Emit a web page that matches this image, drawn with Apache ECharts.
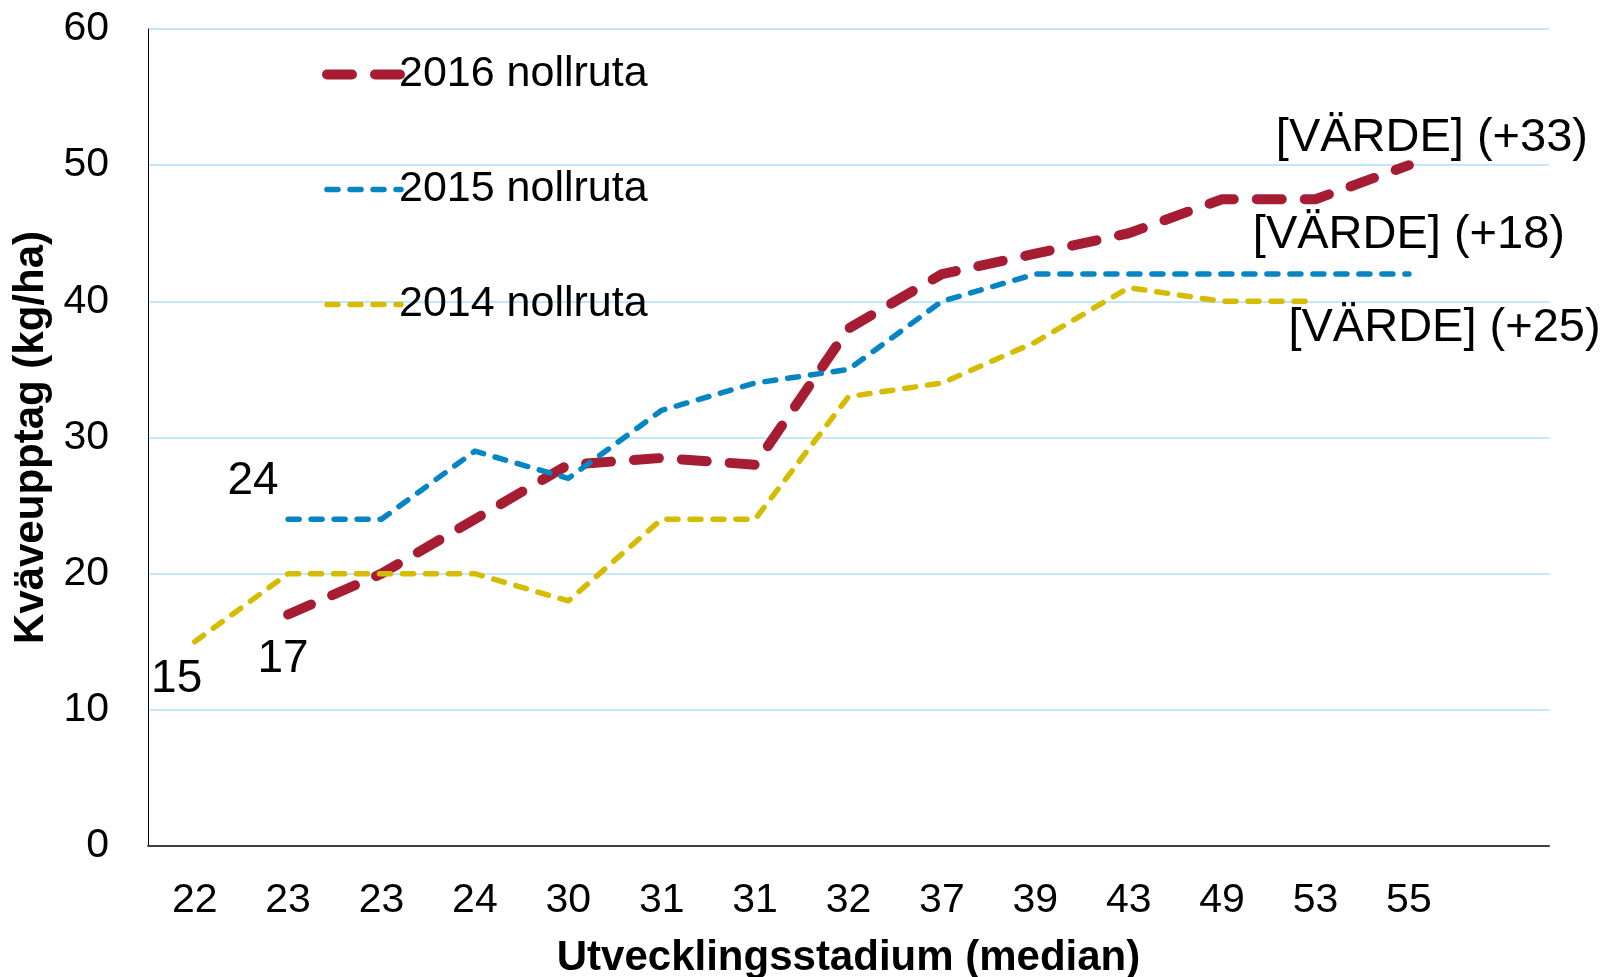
<!DOCTYPE html>
<html><head><meta charset="utf-8">
<script src="https://cdn.jsdelivr.net/npm/echarts@6/dist/echarts.min.js"></script>
<style>html,body{margin:0;padding:0;background:#fff}#c{width:1608px;height:977px}</style>
</head><body><div id="c"></div>
<script>
// ---- data ----
const categories = ['22','23','23','24','30','31','31','32','37','39','43','49','53','55',''];
const yMin = 0, yMax = 60, yStep = 10;
const seriesNames = ['2016 nollruta', '2015 nollruta', '2014 nollruta'];
const values2016 = [null, 17, 20, 24, 28, 28.5, 28, 38, 42, 43.5, 45, 47.5, 47.5, 50, null];
const values2015 = [null, 24, 24, 29, 27, 32, 34, 35, 40, 42, 42, 42, 42, 42, null];
const values2014 = [15, 20, 20, 20, 18, 24, 24, 33, 34, 37, 41, 40, 40, null, null];
const endLabels = ['[VÄRDE] (+33)', '[VÄRDE] (+18)', '[VÄRDE] (+25)'];
const xAxisName = 'Utvecklingsstadium (median)';
const yAxisName = 'Kväveupptag (kg/ha)';

// ---- styles ----
const FONT = "'Liberation Sans', Arial, sans-serif";
const styles = [
  { color: '#A51C33', width: 10, dash: [25, 23], startOffset: [-5, 45], endOffset: [23, -27] },
  { color: '#0585C4', width: 5.5, dash: [11, 12], startOffset: [-35, -38], endOffset: [0, -39] },
  { color: '#D6BC00', width: 5.5, dash: [11, 12], startOffset: [-18, 38], endOffset: [129, 27] }
];

function buildData(vals, st, endText) {
  let first = -1, last = -1;
  vals.forEach((v, i) => { if (v != null) { if (first < 0) first = i; last = i; } });
  return vals.map((v, i) => {
    if (v == null) return null;
    if (i === first) return { value: v, label: { show: true, formatter: String(v), offset: st.startOffset, fontSize: 46 } };
    if (i === last) return { value: v, label: { show: true, formatter: endText, offset: st.endOffset, fontSize: 47 } };
    return v;
  });
}

const allValues = [values2016, values2015, values2014];
const series = allValues.map((vals, k) => ({
  name: seriesNames[k],
  type: 'line',
  data: buildData(vals, styles[k], endLabels[k]),
  symbol: 'circle',
  symbolSize: 1,
  showSymbol: true,
  itemStyle: { color: 'rgba(0,0,0,0)' },
  lineStyle: { color: styles[k].color, width: styles[k].width, type: styles[k].dash, cap: 'round', join: 'round' },
  label: { show: false, position: 'inside', color: '#000', fontFamily: FONT },
  emphasis: { disabled: true },
  animation: false,
  z: 2 + k
}));

const chart = echarts.init(document.getElementById('c'), null, { renderer: 'canvas' });
chart.setOption({
  backgroundColor: '#fff',
  animation: false,
  textStyle: { fontFamily: FONT, color: '#000' },
  grid: { left: 148, right: 59, top: 29, bottom: 131, containLabel: false, outerBoundsMode: 'none' },
  legend: {
    orient: 'vertical',
    left: 317, top: 48,
    itemWidth: 74, itemHeight: 14, itemGap: 72,
    data: seriesNames.map((n, k) => ({
      name: n,
      itemStyle: { color: 'rgba(0,0,0,0)', opacity: 0 },
      lineStyle: { color: styles[k].color, width: styles[k].width, type: styles[k].dash, cap: 'round' }
    })),
    textStyle: { fontSize: 43, color: '#000', fontFamily: FONT, padding: [0,0,0,-7] },
    selectedMode: false
  },
  xAxis: {
    type: 'category',
    data: categories,
    boundaryGap: true,
    name: xAxisName,
    nameLocation: 'middle',
    nameGap: 91,
    nameTextStyle: { fontSize: 42, fontWeight: 'bold', color: '#000', fontFamily: FONT },
    axisLine: { lineStyle: { color: '#404040', width: 2 } },
    axisTick: { show: false },
    axisLabel: { fontSize: 41, color: '#000', margin: 34, interval: 0, fontFamily: FONT },
    splitLine: { show: false }
  },
  yAxis: {
    type: 'value',
    min: yMin, max: yMax, interval: yStep,
    name: yAxisName,
    nameLocation: 'middle',
    nameRotate: 90,
    nameGap: 87,
    nameTextStyle: { fontSize: 42, fontWeight: 'bold', color: '#000', fontFamily: FONT },
    axisLine: { show: true, lineStyle: { color: '#000', width: 1 } },
    axisTick: { show: false },
    axisLabel: { fontSize: 41, color: '#000', margin: 39, fontFamily: FONT },
    splitLine: { show: true, lineStyle: { color: '#C5E6F8', width: 2 } }
  },
  series: series
});
</script>
</body></html>
